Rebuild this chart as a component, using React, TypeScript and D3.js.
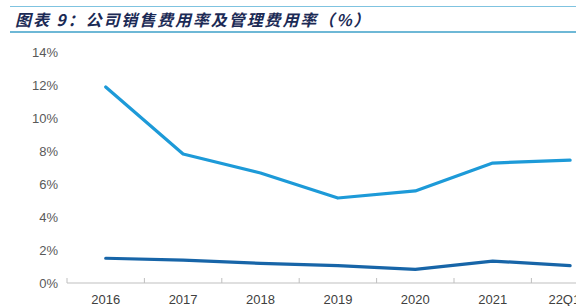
import React from "react";
import * as d3 from "d3";

const categories = ["2016", "2017", "2018", "2019", "2020", "2021", "22Q1-3"];
const salesRate = [11.88, 7.82, 6.67, 5.15, 5.58, 7.27, 7.45];
const adminRate = [1.5, 1.39, 1.19, 1.05, 0.83, 1.33, 1.05];
const yTicks = [0, 2, 4, 6, 8, 10, 12, 14];
const title = "图表 9：公司销售费用率及管理费用率（%）";

const W = 576;
const H = 306;

export default function App() {
  const x = d3.scaleBand<string>().domain(categories).range([67, 67 + 7 * 77.4]);
  const y = d3.scaleLinear().domain([0, 14]).range([283, 52]);
  const line = d3
    .line<number>()
    .x((_, i) => (x(categories[i]) as number) + x.bandwidth() / 2)
    .y((d) => y(d));
  const boundaries = categories.map((c) => x(c) as number).concat([x.range()[1]]);

  return (
    <div style={{ position: "absolute", left: 0, top: 0 }}>
      <svg width={W} height={H} style={{ display: "block", background: "#fff" }}>
        <line x1={10} x2={W} y1={6.5} y2={6.5} stroke="#7fc3e0" strokeWidth={1} />
        <text
          x={15}
          y={26}
          fontFamily="'Noto Sans CJK SC', sans-serif"
          fontWeight={700}
          fontStyle="italic"
          fontSize={16}
          fill="#1b2a55"
          letterSpacing={1.9}
        >
          {title}
        </text>
        <line x1={10} x2={W} y1={32} y2={32} stroke="#3ea0c8" strokeWidth={1.6} />

        {yTicks.map((t) => (
          <text
            key={t}
            x={58}
            y={y(t)}
            dy="0.35em"
            textAnchor="end"
            fontFamily="Arial, 'Liberation Sans', sans-serif"
            fontSize={13}
            fill="#595959"
          >
            {t}%
          </text>
        ))}

        <line x1={67} x2={W} y1={y(0)} y2={y(0)} stroke="#bfbfbf" strokeWidth={1} />
        {boundaries.map((b, i) => (
          <line key={i} x1={b} x2={b} y1={y(0) - 5} y2={y(0)} stroke="#bfbfbf" strokeWidth={1} />
        ))}
        {categories.map((c) => (
          <text
            key={c}
            x={(x(c) as number) + x.bandwidth() / 2}
            y={299}
            dy="0.35em"
            textAnchor="middle"
            fontFamily="Arial, 'Liberation Sans', sans-serif"
            fontSize={13}
            fill="#404040"
          >
            {c}
          </text>
        ))}

        <path d={line(salesRate) || ""} fill="none" stroke="#1d9ad8" strokeWidth={3.2} strokeLinejoin="round" strokeLinecap="round" />
        <path d={line(adminRate) || ""} fill="none" stroke="#1765a8" strokeWidth={3.2} strokeLinejoin="round" strokeLinecap="round" />
      </svg>
    </div>
  );
}
